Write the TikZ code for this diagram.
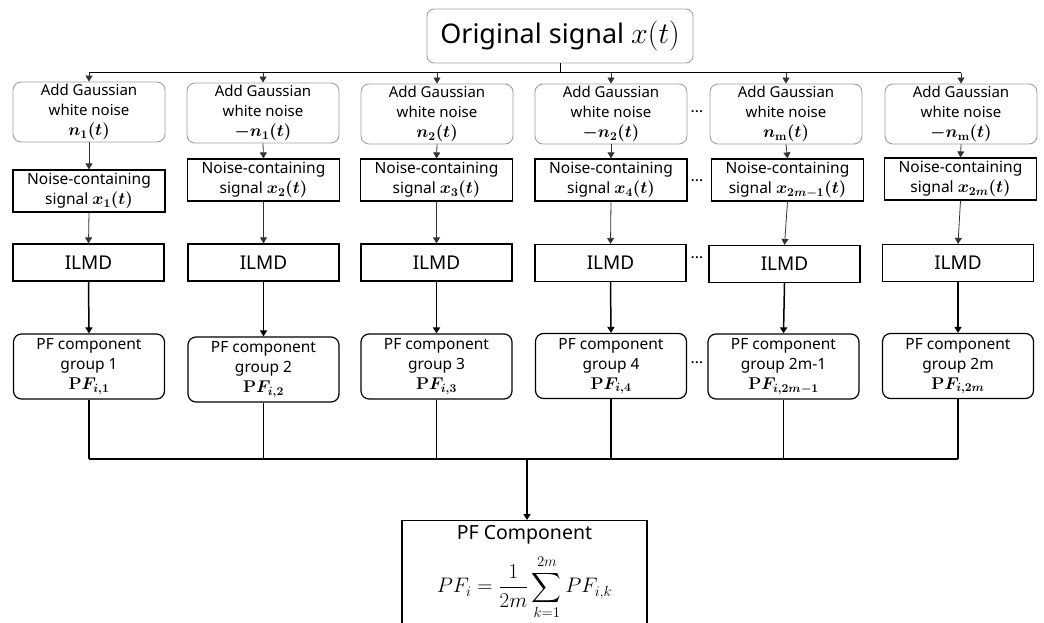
\documentclass[tikz,border=0pt]{standalone}
\usepackage{fix-cm}
\usepackage{amsmath}
\usepackage[no-math]{fontspec}
\setmainfont{Noto Sans}
\usetikzlibrary{arrows.meta}
\newcommand{\gm}[1]{{\fontsize{17}{19.5}\selectfont\boldmath$#1$}}
\begin{document}
\begin{tikzpicture}[x=1pt,y=-1pt,
  topbox/.style={draw=gray!75, rounded corners=7pt, line width=0.9pt, minimum width=266pt, minimum height=54pt, inner sep=0pt, font=\fontsize{27}{30}\selectfont},
  gbox/.style={draw=gray!75, rounded corners=8pt, line width=0.9pt, minimum width=152pt, minimum height=60pt, align=center, inner sep=0pt, font=\fontsize{15}{20}\selectfont},
  nbox/.style={draw, line width=1.2pt, minimum width=152pt, minimum height=42pt, align=center, inner sep=0pt, font=\fontsize{15.5}{20.5}\selectfont},
  ibox/.style={draw, line width=1.2pt, minimum width=151pt, minimum height=37pt, inner sep=0pt, font=\fontsize{19}{22}\selectfont},
  pbox/.style={draw, rounded corners=8pt, line width=1.2pt, minimum width=151pt, minimum height=65pt, align=center, inner sep=0pt, font=\fontsize{15.5}{20}\selectfont},
  fbox/.style={draw, line width=1.2pt, minimum width=245pt, align=center, inner xsep=0pt, inner ysep=5pt, font=\fontsize{19.5}{24}\selectfont},
  dots/.style={font=\fontsize{16}{16}\selectfont\bfseries, inner sep=0pt},
  bus/.style={line width=1pt},
  thinarr/.style={-{Triangle[length=6pt,width=7pt]}, line width=0.8pt, draw=black!80},
  thickarr/.style={-{Triangle[length=6pt,width=7pt]}, line width=1.5pt},
  thickline/.style={line width=1.5pt}
]
\useasboundingbox (0,0) rectangle (1044,623);
\clip (0,0) rectangle (1044,623);

\node[topbox] (top) at (560,36) {Original signal {\fontsize{30}{30}\selectfont$x(t)$}};

\node[gbox] (g1) at (89,112)   {Add Gaussian\\white noise\\\gm{n_1(t)}};
\node[gbox] (g2) at (263,113)  {Add Gaussian\\white noise\\\gm{-n_1(t)}};
\node[gbox] (g3) at (437,114)  {Add Gaussian\\white noise\\\gm{n_2(t)}};
\node[gbox] (g4) at (611,114)  {Add Gaussian\\white noise\\\gm{-n_2(t)}};
\node[gbox] (g5) at (786,114)  {Add Gaussian\\white noise\\\gm{n_{\mathrm{m}}(t)}};
\node[gbox] (g6) at (961,114)  {Add Gaussian\\white noise\\\gm{-n_{\mathrm{m}}(t)}};

\node[nbox] (n1) at (89,191)   {Noise-containing\\signal \gm{x_1(t)}};
\node[nbox] (n2) at (263.5,180) {Noise-containing\\signal \gm{x_2(t)}};
\node[nbox] (n3) at (436.5,180) {Noise-containing\\signal \gm{x_3(t)}};
\node[nbox] (n4) at (611,180)  {Noise-containing\\signal \gm{x_4(t)}};
\node[nbox] (n5) at (787.5,180) {Noise-containing\\signal \gm{x_{2m-1}(t)}};
\node[nbox] (n6) at (960.5,179) {Noise-containing\\signal \gm{x_{2m}(t)}};

\node[ibox] (i1) at (88.5,262.5)  {ILMD};
\node[ibox] (i2) at (263.5,262.5) {ILMD};
\node[ibox] (i3) at (436.5,262.5) {ILMD};
\node[ibox] (i4) at (610.5,263)   {ILMD};
\node[ibox] (i5) at (784.5,264)   {ILMD};
\node[ibox] (i6) at (958,263)     {ILMD};

\node[pbox] (p1) at (89,366.5)   {PF component\\group 1\\\gm{\mathrm{P}F_{i,1}}};
\node[pbox] (p2) at (263.5,369.5) {PF component\\group 2\\\gm{\mathrm{P}F_{i,2}}};
\node[pbox] (p3) at (436.5,366.5) {PF component\\group 3\\\gm{\mathrm{P}F_{i,3}}};
\node[pbox] (p4) at (611,366)    {PF component\\group 4\\\gm{\mathrm{P}F_{i,4}}};
\node[pbox] (p5) at (783.5,366.5) {PF component\\group 2m-1\\\gm{\mathrm{P}F_{i,2m-1}}};
\node[pbox] (p6) at (958,366)    {PF component\\group 2m\\\gm{\mathrm{P}F_{i,2m}}};

\node[fbox, anchor=north] (f) at (524.5,520) {PF Component\\[10pt]{\fontsize{21}{24}\selectfont$\displaystyle PF_i=\frac{1}{2m}\sum_{k=1}^{2m}PF_{i,k}$}\rule[-24pt]{0pt}{0pt}};

\node[dots] (d1) at (697,112) {…};
\node[dots] (d2) at (697,181) {…};
\node[dots] (d3) at (697,258) {…};
\node[dots] (d4) at (697,363) {…};

% top bus
\coordinate (tb) at (560,73);
\draw[bus] (top.south) -- (tb);
\draw[bus] (g1.north |- tb) -- (g6.north |- tb);
\foreach \k in {1,...,6} {
  \draw[thinarr] (g\k.north |- tb) -- (g\k.north);
  \draw[thinarr] (g\k.south) -- (n\k.north);
  \draw[thinarr] (n\k.south) -- (i\k.north);
  \draw[thickarr] (i\k.south) -- (p\k.north);
}

% bottom bus
\coordinate (bb) at (527,459);
\foreach \k in {1,...,6} {
  \draw[thickline] (p\k.south) -- (p\k.south |- bb);
}
\draw[thickline] (p1.south |- bb) -- (p6.south |- bb);
\draw[thickarr] (bb) -- (bb |- f.north);
\end{tikzpicture}
\end{document}
